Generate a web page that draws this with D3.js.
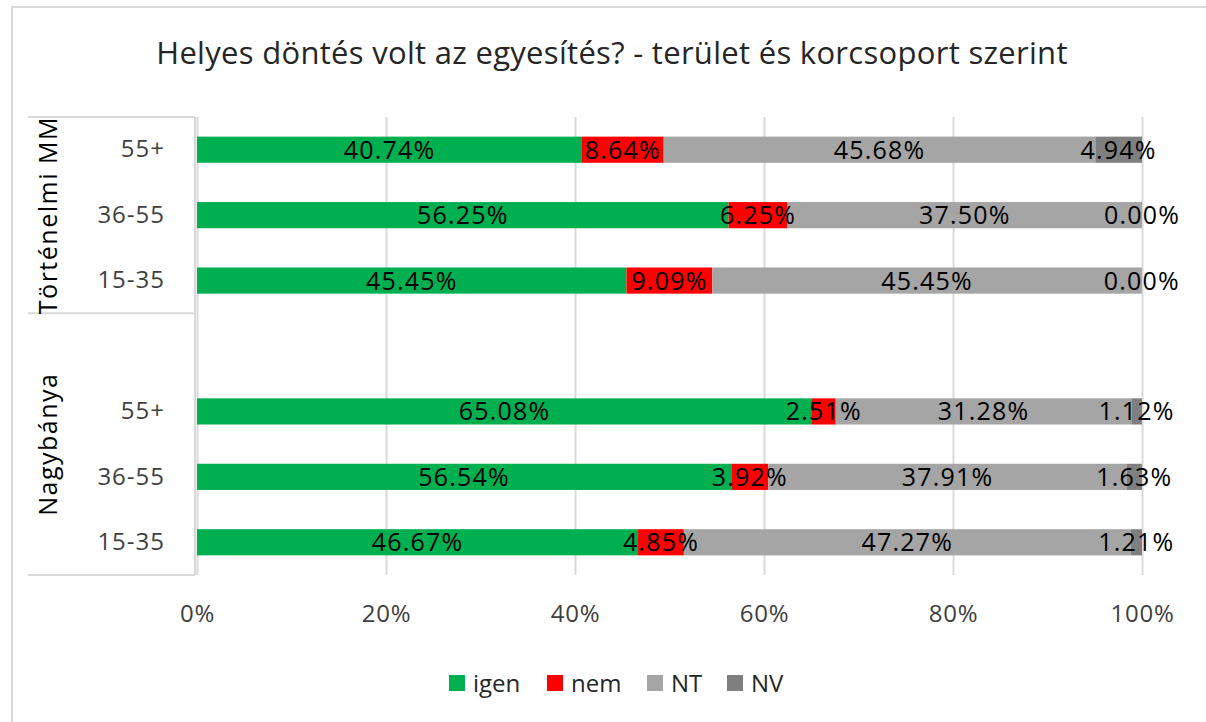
<!DOCTYPE html>
<html>
<head>
<meta charset="utf-8">
<script src="https://cdn.jsdelivr.net/npm/d3@7"></script>
<style>
  body { margin: 0; background: #fff; }
  svg { display: block; }
  svg text { font-family: "Open Sans", sans-serif; }
  .grid line { stroke: #d9d9d9; stroke-width: 2; }
  .grid .domain { display: none; }
  .frame { fill: none; stroke: #d9d9d9; stroke-width: 2; }
  .label { fill: #000; font-size: 25px; letter-spacing: 1.2px; }
  .tick text { fill: #404040; }
</style>
</head>
<body>
<svg width="1206" height="722"></svg>
<script>
// data
var groups = ["Történelmi MM", "Nagybánya"];
var ages = ["55+", "36-55", "15-35"];
var series = ["igen", "nem", "NT", "NV"];
var colors = ["#00b050", "#ff0000", "#a5a5a5", "#7f7f7f"];
// rows top to bottom: TMM 55+, 36-55, 15-35, NB 55+, 36-55, 15-35
var igen = [40.74, 56.25, 45.45, 65.08, 56.54, 46.67];
var nem  = [8.64, 6.25, 9.09, 2.51, 3.92, 4.85];
var nt   = [45.68, 37.50, 45.45, 31.28, 37.91, 47.27];
var nv   = [4.94, 0.00, 0.00, 1.12, 1.63, 1.21];
var xTicks = [0, 0.2, 0.4, 0.6, 0.8, 1];

var svg = d3.select("svg");

svg.append("rect").attr("class", "frame")
    .attr("x", 12).attr("y", 7).attr("width", 1220).attr("height", 740);

// slots: 3 rows, blank spacer, 3 rows
var slots = ["g0-0", "g0-1", "g0-2", "gap", "g1-0", "g1-1", "g1-2"];
var rows = [];
groups.forEach(function(g, gi) {
    ages.forEach(function(a, ai) {
        var i = gi * 3 + ai;
        rows.push({ key: "g" + gi + "-" + ai, age: a, values: [igen[i], nem[i], nt[i], nv[i]] });
    });
});

var x = d3.scaleLinear().domain([0, 1]).range([197, 1142]);
var y = d3.scaleBand().domain(slots).range([117, 575])
    .paddingInner(0.6).paddingOuter(0.3);

// gridlines
svg.append("g")
    .attr("class", "grid")
    .attr("transform", "translate(0,575)")
    .call(d3.axisBottom(x).tickValues(xTicks).tickSize(-458).tickFormat(""));

// x labels
var xAxis = svg.append("g")
    .attr("transform", "translate(0,575)")
    .call(d3.axisBottom(x).tickValues(xTicks).tickSize(0).tickFormat(d3.format(".0%")));
xAxis.select(".domain").remove();
xAxis.selectAll("text").attr("dy", 0).attr("y", 47)
    .style("font-size", "24px").style("letter-spacing", "0.8px");

// stacked segments
var segs = [];
rows.forEach(function(r) {
    var acc = 0;
    r.values.forEach(function(v, si) {
        segs.push({ key: r.key, s: si, x0: acc / 100, x1: (acc + v) / 100, v: v });
        acc += v;
    });
});

svg.append("g").selectAll("rect")
    .data(segs)
    .enter().append("rect")
    .attr("x", function(d) { return x(d.x0); })
    .attr("y", function(d) { return y(d.key); })
    .attr("width", function(d) { return x(d.x1) - x(d.x0); })
    .attr("height", y.bandwidth())
    .attr("fill", function(d) { return colors[d.s]; });

svg.append("g").selectAll("text")
    .data(segs)
    .enter().append("text")
    .attr("class", "label")
    .attr("x", function(d) { return (x(d.x0) + x(d.x1)) / 2; })
    .attr("y", function(d) { return y(d.key) + y.bandwidth() / 2; })
    .attr("dy", "0.36em")
    .attr("text-anchor", "middle")
    .text(function(d) { return d.v.toFixed(2) + "%"; });

// category axis (age groups)
var yAxis = svg.append("g")
    .attr("transform", "translate(165,0)")
    .call(d3.axisLeft(y).tickSize(0).tickPadding(0).tickFormat(function(k) {
        var r = rows.find(function(r) { return r.key === k; });
        return r ? r.age : "";
    }));
yAxis.select(".domain").remove();
yAxis.selectAll("text").style("font-size", "24px").style("letter-spacing", "1px");

// group label table lines
var top0 = 117, mid = y("gap") - y.step() * 0.3, bot = 575;
var lines = [[28, top0, 195, top0], [28, mid, 195, mid], [28, bot, 195, bot], [195, top0, 195, bot]];
svg.append("g").selectAll("line")
    .data(lines)
    .enter().append("line")
    .attr("x1", function(d) { return d[0]; }).attr("y1", function(d) { return d[1]; })
    .attr("x2", function(d) { return d[2]; }).attr("y2", function(d) { return d[3]; })
    .attr("stroke", "#d9d9d9").attr("stroke-width", 2);

var groupSpans = [[top0, mid], [mid, bot]];
svg.append("g").selectAll("text")
    .data(groups)
    .enter().append("text")
    .attr("transform", function(d, i) {
        return "translate(48," + (groupSpans[i][0] + groupSpans[i][1]) / 2 + ") rotate(-90)";
    })
    .attr("dy", "0.36em")
    .attr("text-anchor", "middle")
    .style("font-size", "25px")
    .style("letter-spacing", "1.5px")
    .attr("fill", "#000")
    .text(function(d) { return d; });

// title
svg.append("text")
    .attr("x", 612).attr("y", 64)
    .attr("text-anchor", "middle")
    .style("font-size", "31px")
    .style("letter-spacing", "0.3px")
    .attr("fill", "#262626")
    .text("Helyes döntés volt az egyesítés? - terület és korcsoport szerint");

// legend
var legendX = [449, 547, 647, 727];
var legend = svg.append("g").selectAll("g")
    .data(series)
    .enter().append("g")
    .attr("transform", function(d, i) { return "translate(" + legendX[i] + ",675)"; });
legend.append("rect").attr("width", 16).attr("height", 16)
    .attr("fill", function(d, i) { return colors[i]; });
legend.append("text")
    .attr("x", 24).attr("y", 8).attr("dy", "0.36em")
    .style("font-size", "24px").attr("fill", "#262626")
    .text(function(d) { return d; });
</script>
</body>
</html>
